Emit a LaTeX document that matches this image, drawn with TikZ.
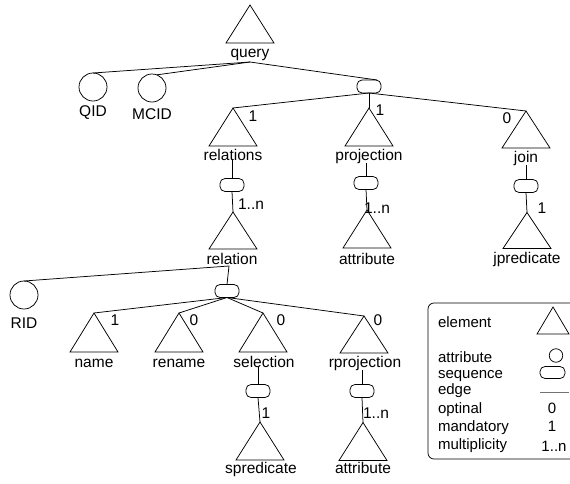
\documentclass[tikz,border=0pt]{standalone}
\usepackage{fontspec}
\setmainfont{Liberation Sans}
\usetikzlibrary{calc}
\begin{document}
\begin{tikzpicture}[x=1pt,y=-1pt,
  font=\fontsize{15.5}{18}\selectfont,
  every node/.style={inner sep=0pt, outer sep=0pt},
  every path/.style={line width=0.75pt},
  elem/.style={minimum width=48pt, minimum height=38pt},
  attr/.style={circle, draw, minimum size=28pt},
  seqbox/.style={draw, rounded corners=5pt, minimum width=24pt, minimum height=13pt},
  lbl/.style={anchor=base},
  mult/.style={anchor=base},
  leg/.style={anchor=base west, font=\fontsize{15}{18}\selectfont},
  legsym/.style={anchor=base, font=\fontsize{15}{18}\selectfont}
]
\useasboundingbox (0,0) rectangle (570,483);

% ---- element nodes (triangles) ----
\node[elem] (query) at (250,24) {};
\node[elem] (relations) at (233,127) {};
\node[elem] (projection) at (369,127) {};
\node[elem, minimum height=37pt] (join) at (526,129.5) {};
\node[elem, minimum height=37pt] (relation) at (233,230.5) {};
\node[elem] (attributeA) at (367,229) {};
\node[elem, minimum height=36pt] (jpredicate) at (527,230.5) {};
\node[elem, minimum height=39pt] (name) at (94,332.5) {};
\node[elem, minimum height=39pt] (rename) at (179,332.5) {};
\node[elem, minimum height=39pt] (selection) at (263,332.5) {};
\node[elem, minimum height=37pt] (rprojection) at (364,334.5) {};
\node[elem] (spredicate) at (260,441) {};
\node[elem] (attributeB) at (363,441.5) {};

\foreach \n in {query,relations,projection,join,relation,attributeA,jpredicate,
                name,rename,selection,rprojection,spredicate,attributeB}
  \draw (\n.south west) -- (\n.north) -- (\n.south east) -- cycle;

% ---- labels ----
\node[lbl] (queryL) at (250,57) {query};
\node[lbl] (relationsL) at (233,160) {relations};
\node[lbl] (projectionL) at (369,160) {projection};
\node[lbl] (joinL) at (526,162) {join};
\node[lbl] (relationL) at (232,264) {relation};
\node[lbl] (attributeAL) at (367,264) {attribute};
\node[lbl] (jpredicateL) at (527,263) {jpredicate};
\node[lbl] (nameL) at (94,367) {name};
\node[lbl] (renameL) at (179,367) {rename};
\node[lbl] (selectionL) at (264,367) {selection};
\node[lbl] (rprojectionL) at (365,367) {rprojection};
\node[lbl] (spredicateL) at (261,473) {spredicate};
\node[lbl] (attributeBL) at (363,473) {attribute};

% ---- attributes (circles) ----
\node[attr] (QID) at (93,87) {};
\node[lbl] (QIDL) at (93,116) {QID};
\node[attr] (MCID) at (152,88) {};
\node[lbl] (MCIDL) at (152,119) {MCID};
\node[attr] (RID) at (24,295) {};
\node[lbl] (RIDL) at (24,328) {RID};

% ---- sequences ----
\node[seqbox] (s0) at (369,86.5) {};
\node[seqbox] (s1) at (232,185) {};
\node[seqbox] (s2) at (366,183) {};
\node[seqbox] (s3) at (526,186) {};
\node[seqbox] (s4) at (227,291) {};
\node[seqbox] (s5) at (258,391) {};
\node[seqbox] (s6) at (362,391) {};

% ---- junctions ----
\coordinate (qj) at (250,62);
\coordinate (rj) at (229,266);

% ---- connectors ----
\draw (qj) -- (QID.north);
\draw (qj) -- (MCID.70);
\draw (qj) -- ([xshift=8pt]s0.north);
\draw (s0.south) -- (relations.north);
\draw (s0.south) -- (projection.north);
\draw (s0.south) -- (join.north);

\draw (s1.north |- relationsL.south) -- (s1.north);
\draw (s1.south) -- (relation.north);
\draw (s2.north |- projectionL.south) -- (s2.north);
\draw (s2.south) -- (attributeA.north);
\draw (s3.north |- joinL.south) -- (s3.north);
\draw (s3.south) -- (jpredicate.north);

\draw (RID.north) -- (rj) -- (s4.north);
\draw (s4.south) -- (name.north);
\draw (s4.south) -- (rename.north);
\draw (s4.south) -- (selection.north);
\draw (s4.south) -- (rprojection.north);

\draw (s5.north |- selectionL.south) -- (s5.north);
\draw (s5.south) -- (spredicate.north);
\draw (s6.north |- rprojectionL.south) -- (s6.north);
\draw (s6.south) -- (attributeB.north);

% ---- multiplicities ----
\node[mult] (m1) at (253,121) {1};
\node[mult] (m2) at (380,115) {1};
\node[mult] (m3) at (507,123) {0};
\node[mult] (m4) at (251,209) {1..n};
\node[mult] (m5) at (377,213) {1..n};
\node[mult] (m6) at (542,213) {1};
\node[mult] (m7) at (115,325) {1};
\node[mult] (m8) at (194,325) {0};
\node[mult] (m9) at (281,325) {0};
\node[mult] (m10) at (378,325) {0};
\node[mult] (m11) at (266,418) {1};
\node[mult] (m12) at (376,418) {1..n};

% ---- legend ----
\node[draw, rounded corners=6pt, minimum width=152pt, minimum height=156pt] (legend) at (504,381) {};
\node[leg] (lg1) at (438,327) {element};
\node[leg] (lg2) at (438,362) {attribute};
\node[leg] (lg3) at (438,378) {sequence};
\node[leg] (lg4) at (438,394) {edge};
\node[leg] (lg5) at (438,413) {optinal};
\node[leg] (lg6) at (438,431) {mandatory};
\node[leg] (lg7) at (438,449) {multiplicity};

\node[minimum width=32pt, minimum height=27pt] (legTri) at (553,320.5) {};
\draw (legTri.south west) -- (legTri.north) -- (legTri.south east) -- cycle;
\node[circle, draw, minimum size=13.5pt] (legCirc) at (556,355.5) {};
\node[draw, rounded corners=5pt, minimum width=25pt, minimum height=12pt] (legSeq) at (552.5,372.5) {};
\coordinate (legE1) at (540,392.5);
\coordinate (legE2) at (569,392.5);
\draw[black!55] (legE1) -- (legE2);
\node[legsym] (lgs5) at (552,413) {0};
\node[legsym] (lgs6) at (552,431) {1};
\node[legsym] (lgs7) at (554,451) {1..n};
\end{tikzpicture}
\end{document}
